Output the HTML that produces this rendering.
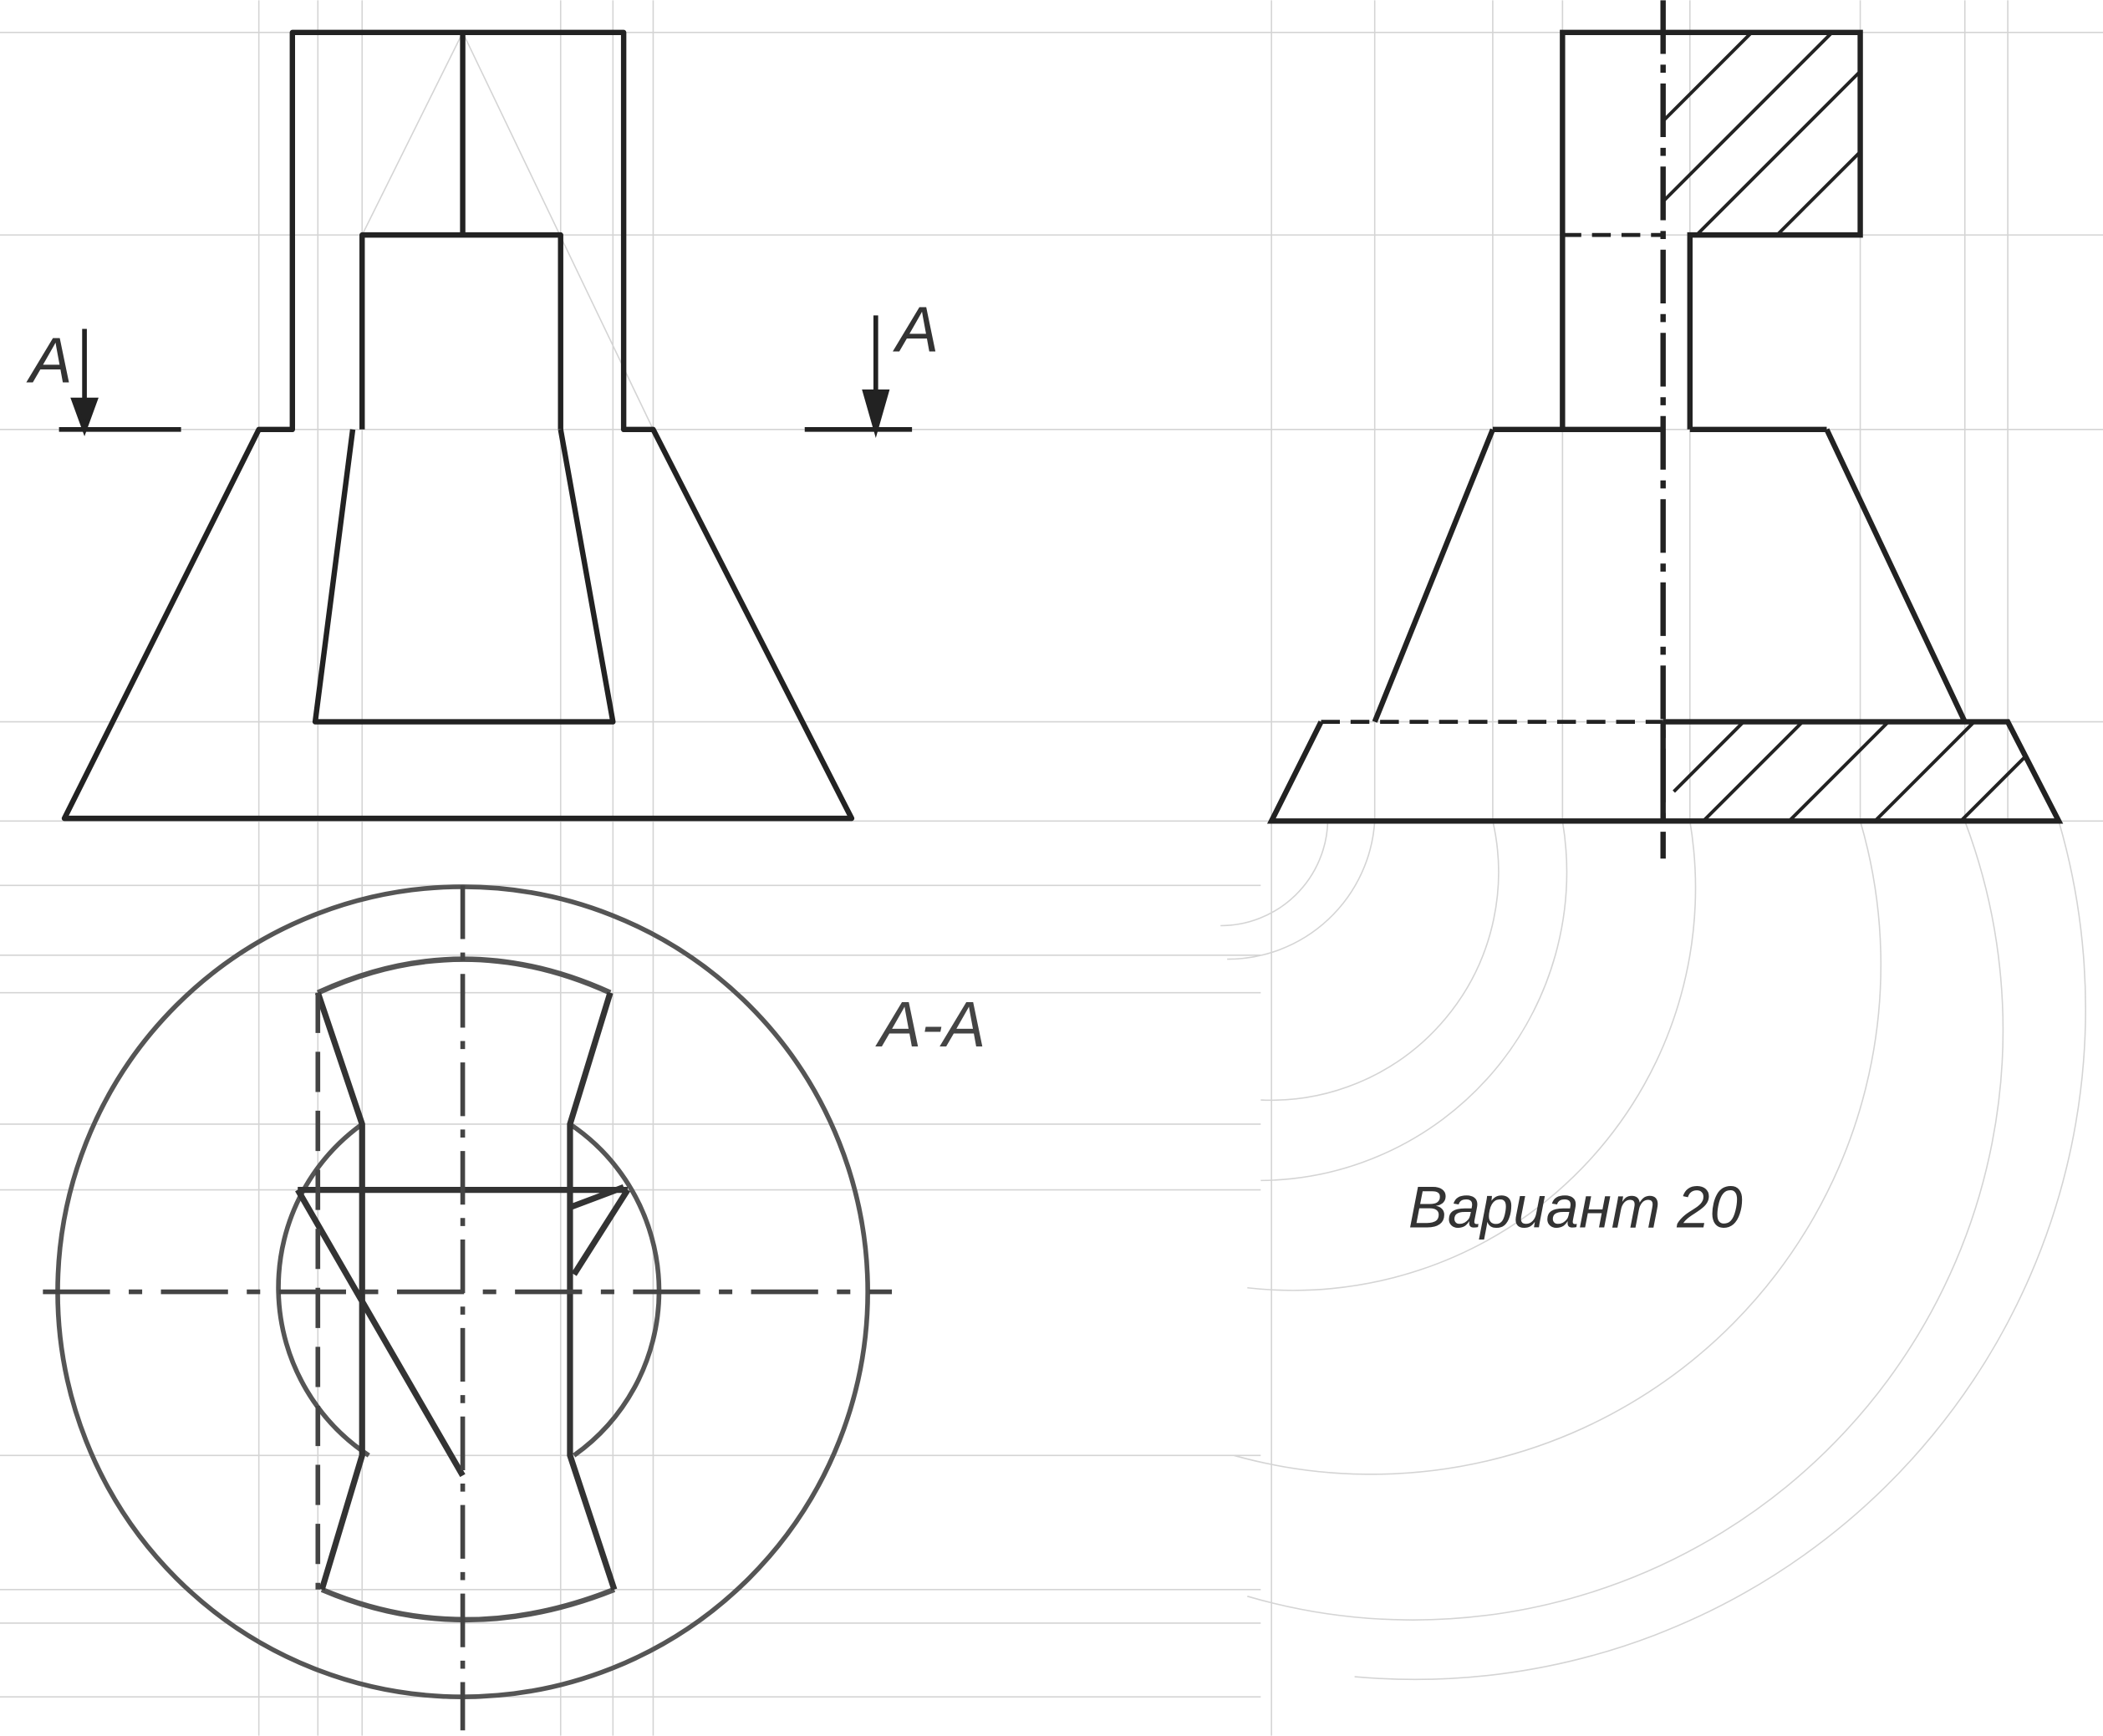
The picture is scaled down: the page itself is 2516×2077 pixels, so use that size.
<!DOCTYPE html>
<html><head><meta charset="utf-8"><style>
html,body{margin:0;padding:0;background:#fff;}
svg{display:block}
text{font-family:"Liberation Sans",sans-serif;}
</style></head><body>
<svg width="2516" height="2077" viewBox="0 0 1568 1294" xmlns="http://www.w3.org/2000/svg">
<rect width="1568" height="1294" fill="#fff"/>
<g stroke="#d4d4d4" stroke-width="1" fill="none">
<path d="M0 320H1568M0 538H1568M0 612H1568M0 175H1568M0 24H1568"/>
<path d="M193 0V1294M237 0V1294M270 0V1294M418 0V1294M457 0V1294M487 0V1294M948 0V1294M1025 0V612M1113 0V612M1165 0V612M1260 0V612M1387 0V612M1465 0V612M1497 0V612"/>
<path d="M0 712H940M0 740H940M0 838H940M0 887H940M0 1085H940M0 1185H940M0 1210H940M0 660H940M0 1265H940"/>
<path d="M990 612 A80 80 0 0 1 910 690 M1025 612 A110 110 0 0 1 915 715 M1113 612 A170 170 0 0 1 940 820 M1165 612 A230 230 0 0 1 940 880 M1260 612 A300 300 0 0 1 930 960 M1387 612 A380 380 0 0 1 920 1085 M1465 612 A440 440 0 0 1 930 1190 M1535 612 A500 500 0 0 1 1010 1250"/>
<path d="M345 24L270 175M345 24L487 320"/>
</g>
<g stroke="#222" stroke-width="4" fill="none" stroke-linejoin="round">
<path d="M193 320H218V24H465V320H487L635 610H48Z"/>
<path d="M270 320V175H418V320"/>
<path d="M345 24V175"/>
<path d="M263 320L235 538H457L418 320"/>
</g>
<g stroke="#222" stroke-width="3.5" fill="#222">
<path d="M44 320H135M600 320H680" fill="none"/>
<path d="M63 245V305M653 235V305" fill="none"/>
<path d="M55 298L63 320L71 298Z M645 292L653 320L661 292Z"/>
</g>
<text x="22" y="285" font-size="48" font-style="italic" fill="#333">A</text>
<text x="668" y="262" font-size="48" font-style="italic" fill="#333">A</text>
<g stroke="#222" stroke-width="4" fill="none">
<path d="M1165 320V24H1387V175H1260V320"/>
<path d="M1113 320H1240M1260 320H1362"/>
<path d="M1113 320L1025 538M1362 320L1465 538"/>
<path d="M985 538L948 612H1535L1497 538H1240"/>
<path d="M985 538H1240" stroke-dasharray="14 8" stroke-width="3"/>
<path d="M1165 175H1240" stroke-dasharray="14 8" stroke-width="3"/>
<path d="M1240 0V640" stroke-dasharray="40 8 6 8" stroke-width="4"/>
<path d="M1240 538V612" stroke-width="4"/>
</g>
<g stroke="#222" stroke-width="2.5" fill="none">
<path d="M1240 90L1306 24M1240 150L1366 24M1265 175L1387 53M1325 175L1387 113"/>
<path d="M1248 590L1300 538M1270 612L1344 538M1334 612L1408 538M1398 612L1472 538M1462 612L1510 564"/>
</g>
<g fill="none">
<circle cx="345" cy="963" r="302" stroke="#555" stroke-width="3.5"/>
<path d="M237 740Q345 690 455 740" stroke="#555" stroke-width="4"/>
<path d="M240 1185Q345 1230 458 1185" stroke="#555" stroke-width="4"/>
<path d="M270 838A150 150 0 0 0 275 1085M425 838A150 150 0 0 1 428 1085" stroke="#555" stroke-width="3.5"/>
<path d="M237 740L270 838V1085L240 1185M455 740L425 838V1085L458 1185" stroke="#333" stroke-width="4.5"/>
<path d="M222 887H468M222 887L345 1100M425 900L465 885M428 950L468 887" stroke="#333" stroke-width="4.5"/>
<path d="M237 740V1185" stroke="#444" stroke-width="3.5" stroke-dasharray="30 14"/>
<path d="M345 660V1290" stroke="#444" stroke-width="3.5" stroke-dasharray="40 10 6 10"/>
<path d="M32 963H665" stroke="#444" stroke-width="3.5" stroke-dasharray="50 14 10 14"/>
</g>
<text x="655" y="780" font-size="48" font-style="italic" fill="#444">A-A</text>
<text x="1050" y="915" font-size="44" font-style="italic" fill="#333" font-family="Liberation Serif, serif">Вариант 20</text>
</svg>
</body></html>
